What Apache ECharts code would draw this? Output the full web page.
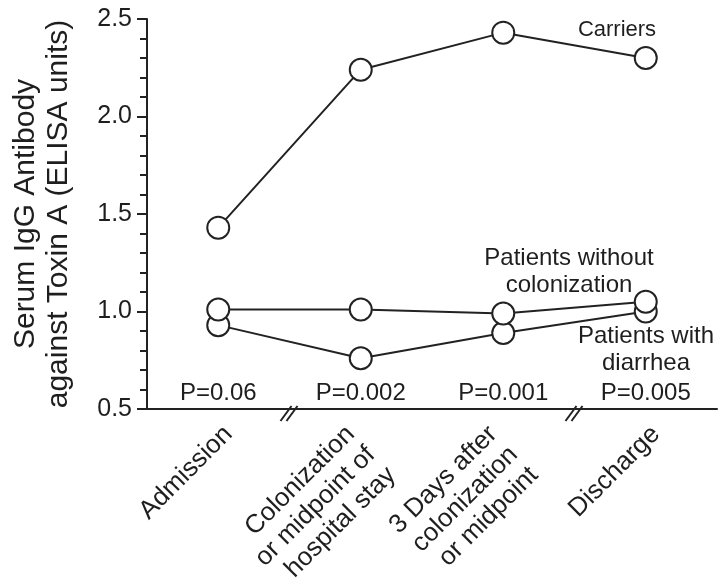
<!DOCTYPE html>
<html>
<head>
<meta charset="utf-8">
<script src="https://cdn.jsdelivr.net/npm/echarts@6/dist/echarts.min.js"></script>
<style>
  html, body { margin: 0; padding: 0; background: #fff; }
  #chart { width: 720px; height: 582px; }
</style>
</head>
<body>
<div id="chart"></div>
<script>
var timePoints = ['Admission', 'Colonization\nor midpoint of\nhospital stay', '3 Days after\ncolonization\nor midpoint', 'Discharge'];
var carriers = [1.43, 2.24, 2.43, 2.30];
var withoutColonization = [1.01, 1.01, 0.99, 1.05];
var withDiarrhea = [0.93, 0.76, 0.89, 1.00];
var pValues = ['P=0.06', 'P=0.002', 'P=0.001', 'P=0.005'];
var yTicks = [0.5, 1.0, 1.5, 2.0, 2.5];
// axis breaks sit between these category pairs
var breaksAfter = [0, 2];

var font = '"Liberation Sans", Arial, sans-serif';
var ink = '#222';
var textInk = '#1e1e1e';

var chart = echarts.init(document.getElementById('chart'));

function groupSeries(name, values) {
  return {
    name: name,
    type: 'line',
    data: values,
    symbol: 'circle',
    symbolSize: 22,
    itemStyle: { color: '#fff', borderColor: ink, borderWidth: 2 },
    lineStyle: { color: ink, width: 2 },
    emphasis: { disabled: true },
    animation: false
  };
}

// rotated labels: single lines hang just below the tick, stacked ones start a bit further left
function timeLabel(value) {
  if (value.indexOf('\n') < 0) return '\n' + value;
  return '\n\n' + value.split('\n').map(function (l) { return l + '  '; }).join('\n');
}

var option = {
  animation: false,
  grid: { left: 147, right: 3, top: 19, bottom: 173, containLabel: false, outerBoundsMode: 'none' },
  xAxis: {
    type: 'category',
    boundaryGap: true,
    data: timePoints,
    axisLine: { lineStyle: { color: ink, width: 2 } },
    axisTick: { alignWithLabel: true, length: 11, lineStyle: { color: ink, width: 2 } },
    axisLabel: {
      interval: 0,
      rotate: 45,
      margin: 11,
      fontSize: 26,
      lineHeight: 29,
      color: textInk,
      fontFamily: font,
      verticalAlign: 'middle',
      formatter: timeLabel
    },
    splitLine: { show: false }
  },
  yAxis: {
    type: 'value',
    min: yTicks[0],
    max: yTicks[yTicks.length - 1],
    interval: yTicks[1] - yTicks[0],
    name: 'Serum IgG Antibody\nagainst Toxin A (ELISA units)',
    nameLocation: 'middle',
    nameRotate: 90,
    nameGap: 72,
    nameTextStyle: { fontSize: 30, lineHeight: 33, color: textInk, fontFamily: font },
    axisLine: { show: true, lineStyle: { color: ink, width: 2 } },
    axisTick: { show: true, length: 10, lineStyle: { color: ink, width: 2 } },
    minorTick: { show: true, splitNumber: 5, length: 7, lineStyle: { color: ink, width: 2 } },
    splitLine: { show: false },
    axisLabel: {
      fontSize: 25,
      margin: 15,
      color: textInk,
      fontFamily: font,
      formatter: function (v) { return v.toFixed(1); }
    }
  },
  series: [
    groupSeries('Patients with diarrhea', withDiarrhea),
    groupSeries('Patients without colonization', withoutColonization),
    groupSeries('Carriers', carriers),
    {
      name: 'P values',
      type: 'scatter',
      data: pValues.map(function (p, i) { return [i, yTicks[0]]; }),
      symbolSize: 0,
      itemStyle: { color: ink, opacity: 1 },
      silent: true,
      label: {
        show: true,
        position: 'top',
        distance: 4,
        fontSize: 24,
        lineHeight: 24,
        color: textInk,
        opacity: 1,
        fontFamily: font,
        formatter: function (p) { return pValues[p.dataIndex]; }
      }
    }
  ]
};

chart.setOption(option);

// group names and axis break marks
function note(text, x, y, size) {
  return {
    type: 'text',
    silent: true,
    style: {
      text: text, x: x, y: y,
      font: size + 'px ' + font,
      lineHeight: 27,
      fill: textInk,
      align: 'center', verticalAlign: 'middle',
      textAlign: 'center', textVerticalAlign: 'middle'
    }
  };
}

var graphics = [
  note('Carriers', 617, 30, 22),
  note('Patients without\ncolonization', 569, 272, 24),
  note('Patients with\ndiarrhea', 646, 350, 24)
];

var axisY = chart.convertToPixel({ yAxisIndex: 0 }, yTicks[0]);
breaksAfter.forEach(function (i) {
  var cx = (chart.convertToPixel({ xAxisIndex: 0 }, i) + chart.convertToPixel({ xAxisIndex: 0 }, i + 1)) / 2;
  graphics.push({
    type: 'polygon', silent: true,
    shape: { points: [[cx - 7.5, axisY + 12], [cx + 3.5, axisY - 3], [cx + 7.5, axisY - 3], [cx - 4.5, axisY + 12]] },
    style: { fill: '#fff' }
  });
  [-9, -3].forEach(function (dx) {
    graphics.push({
      type: 'line', silent: true,
      shape: { x1: cx + dx, y1: axisY + 12, x2: cx + dx + 11, y2: axisY - 3 },
      style: { stroke: ink, lineWidth: 2 }
    });
  });
});

chart.setOption({ graphic: graphics });
</script>
</body>
</html>
